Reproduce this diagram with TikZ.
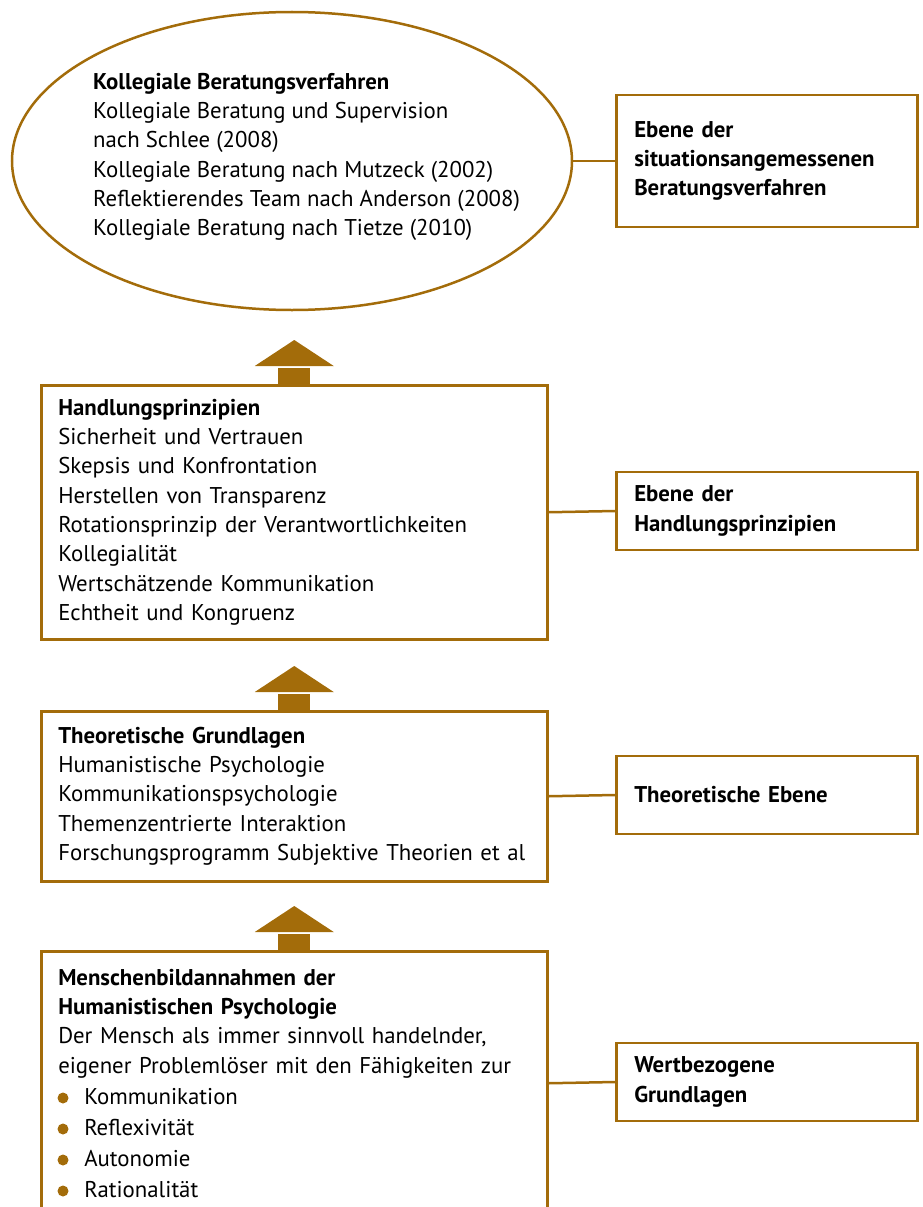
\documentclass[tikz,border=0pt]{standalone}
\usepackage{fontspec}
\setmainfont{PT Sans}
\usepackage{xcolor}
\usetikzlibrary{shapes.geometric, positioning, calc}
\definecolor{levelbrown}{RGB}{163,108,10}
\newcommand{\levelfont}{\fontsize{22.8}{29.3}\selectfont}
\newcommand{\levelitem}[1]{\hspace*{26pt}#1}

\begin{document}
\begin{tikzpicture}[
  x=1pt, y=-1pt,
  levelbox/.style={rectangle, draw=levelbrown, line width=2.5pt,
    anchor=north west, minimum width=506pt, text width=472pt,
    inner xsep=17pt, inner ysep=0pt, align=left, font=\levelfont},
  levelname/.style={rectangle, draw=levelbrown, line width=2.5pt,
    anchor=west, minimum width=301pt, minimum height=78pt,
    text width=265pt, inner xsep=18pt, inner ysep=0pt, align=left,
    font=\levelfont\bfseries},
  link/.style={levelbrown, line width=2.5pt}
]
\useasboundingbox (0,0) rectangle (923,1207);
\clip (0,0) rectangle (923,1207);

% Top level: ellipse with the procedures
\node[ellipse, draw=levelbrown, line width=2.5pt,
      minimum width=560pt, minimum height=298pt] (E) at (292,161) {};
\node[anchor=west, inner sep=0pt, align=left, font=\levelfont] (Etext)
  at (93,157)
  {\textbf{Kollegiale Beratungsverfahren}\\
   Kollegiale Beratung und Supervision\\
   nach Schlee (2008)\\
   Kollegiale Beratung nach Mutzeck (2002)\\
   Reflektierendes Team nach Anderson (2008)\\
   Kollegiale Beratung nach Tietze (2010)};

% Main boxes
\node[levelbox, minimum height=254pt] (H) at (40,384)
  {\textbf{Handlungsprinzipien}\\
   Sicherheit und Vertrauen\\
   Skepsis und Konfrontation\\
   Herstellen von Transparenz\\
   Rotationsprinzip der Verantwortlichkeiten\\
   Kollegialität\\
   Wertschätzende Kommunikation\\
   Echtheit und Kongruenz};

\node[levelbox, minimum height=170pt] (T) at (40,710)
  {\textbf{Theoretische Grundlagen}\\
   Humanistische Psychologie\\
   Kommunikationspsychologie\\
   Themenzentrierte Interaktion\\
   Forschungsprogramm Subjektive Theorien et al};

\node[levelbox, minimum height=264pt] (M) at (40,950)
  {\textbf{Menschenbildannahmen der}\\
   \textbf{Humanistischen Psychologie}\\
   Der Mensch als immer sinnvoll handelnder,\\
   eigener Problemlöser mit den Fähigkeiten zur\\[1.7pt]
   \levelitem{Kommunikation}\\[1.7pt]
   \levelitem{Reflexivität}\\[1.7pt]
   \levelitem{Autonomie}\\[1.7pt]
   \levelitem{Rationalität}};

% Bullets of the list
\foreach \i in {0,...,3}
  \fill[levelbrown] ($(M.north west)+(23,148+31*\i)$) circle (5.5);

% Level names
\node[levelname, minimum height=132pt] (RE) at (615,161)
  {Ebene der\\situationsangemessenen\\Beratungsverfahren};
\node[levelname] (RH) at (615,511)
  {Ebene der\\Handlungsprinzipien};
\node[levelname] (RT) at (615,795)
  {Theoretische Ebene};
\node[levelname] (RM) at (615,1082)
  {Wertbezogene\\Grundlagen};

% Connectors
\draw[link] (E.east) -- (RE.west);
\draw[link] (H.east) -- (RH.west);
\draw[link] (T.east) -- (RT.west);
\draw[link] (M.east) -- (RM.west);

% Block arrows
\foreach \lo in {H,T,M} {
  \fill[levelbrown] ($(\lo.north)+(-16,0)$) rectangle ++(32,-16);
  \fill[levelbrown] ($(\lo.north)+(-39.5,-18)$) -- ++(79,0)
    -- ++(-39.5,-26) -- cycle;
}
\end{tikzpicture}
\end{document}
